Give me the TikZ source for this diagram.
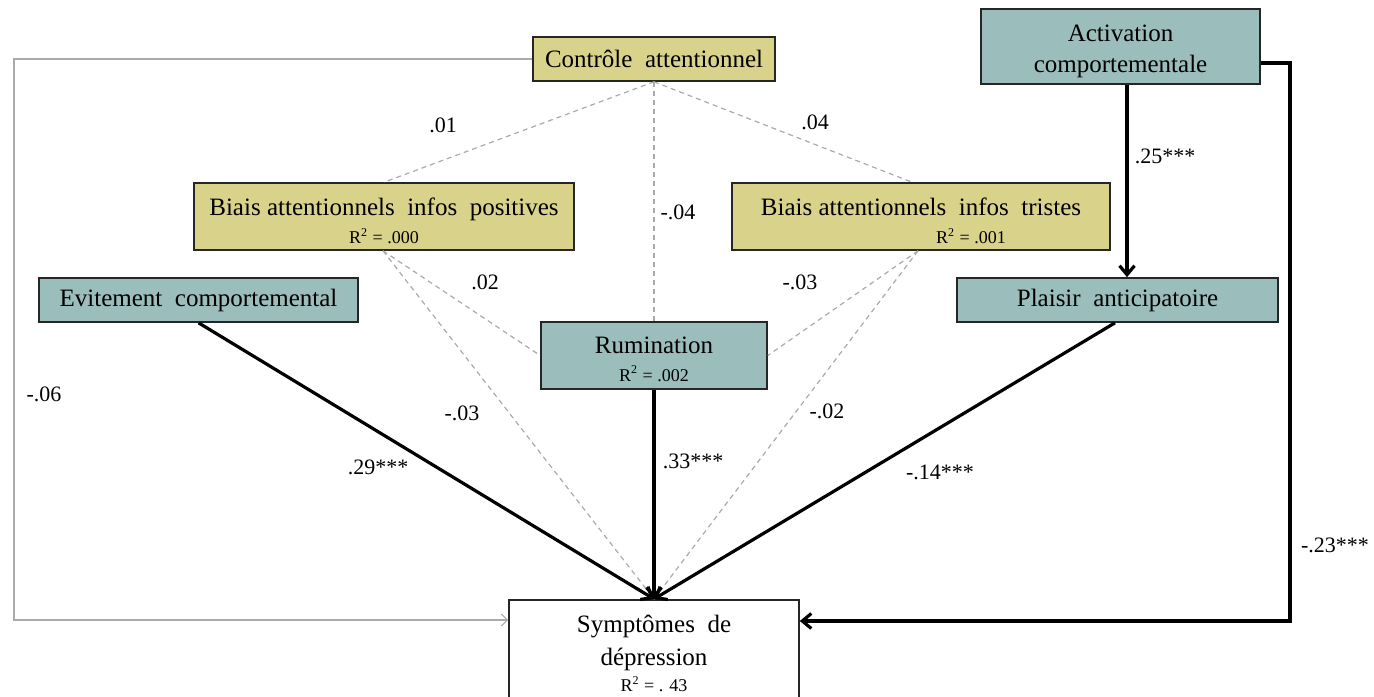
\documentclass[tikz,border=0pt]{standalone}
\usepackage{fontspec}
\setmainfont{Liberation Serif}
\usetikzlibrary{arrows.meta,calc}
\definecolor{khaki}{RGB}{217,210,139}
\definecolor{teal2}{RGB}{155,189,188}
\definecolor{lgray}{RGB}{170,170,170}
\newcommand\rsqf{\fontsize{9}{10}\selectfont}
\tikzset{
  box/.style={draw=black!85, line width=0.8pt, inner sep=0pt, align=center, font=\fontsize{12.5}{15.5}\selectfont},
  kbox/.style={box, fill=khaki},
  tbox/.style={box, fill=teal2},
  lbl/.style={font=\fontsize{11}{13}\selectfont, inner sep=0pt},
  dsh/.style={draw=lgray, line width=0.6pt, dash pattern=on 2.5pt off 2pt},
  thin/.style={draw=lgray, line width=0.6pt, -{Straight Barb[length=3pt,width=6pt]}},
  thk/.style={draw=black, line width=1.6pt, -{Straight Barb[length=4.5pt,width=7.5pt]}},
}
\begin{document}
\begin{tikzpicture}[x=0.5pt,y=-0.5pt]
\useasboundingbox (0,0) rectangle (1374,696);
% nodes
\node[kbox, minimum width=121pt, minimum height=22pt] (ctrl) at (654,59) {Contrôle\ \ attentionnel};
\node[tbox, minimum width=139.5pt, minimum height=37.5pt] (act) at (1120.5,46.5) {\rule{0pt}{13pt}Activation\\comportementale};
\node[kbox, minimum width=190pt, minimum height=33.5pt] (bpos) at (384,216.5) {\rule{0pt}{13.5pt}Biais\ attentionnels\ \ infos\ \ positives\\[-1.5pt]{\rsqf R\textsuperscript{2} = .000}};
\node[kbox, minimum width=189pt, minimum height=33.5pt] (btri) at (921,216.5) {\rule{0pt}{13.5pt}Biais\ attentionnels\ \ infos\ \ tristes\\[-1.5pt]\hspace*{50pt}{\rsqf R\textsuperscript{2} = .001}};
\node[tbox, minimum width=159.5pt, minimum height=22pt] (evit) at (198.5,300) {Evitement\ \ comportemental};
\node[tbox, minimum width=160.5pt, minimum height=22pt] (plai) at (1117.5,300) {Plaisir\ \ anticipatoire};
\node[tbox, minimum width=113pt, minimum height=33.5pt] (rum) at (654,355.5) {\rule{0pt}{12pt}Rumination\\[-1.5pt]{\rsqf R\textsuperscript{2} = .002}};
\node[box, fill=white, minimum width=145pt, minimum height=52pt, anchor=north] (sym) at (654,599) {\rule{0pt}{10.5pt}Symptômes\ \ de\\[1pt]dépression\\[-2.5pt]{\rsqf R\textsuperscript{2} = . 43}};
% coordinates
\coordinate (l1) at (14,59);
\coordinate (l2) at (14,620);
\coordinate (r1) at (1290,63);
\coordinate (r2) at (1290,621);
% dashed
\draw[dsh] (ctrl.south) -- (bpos.north);
\draw[dsh] (ctrl.south) -- (rum.north);
\draw[dsh] (ctrl.south) -- ([xshift=-4.5pt]btri.north);
\draw[dsh] ([xshift=-0.5pt]bpos.south) -- (rum.west);
\draw[dsh] ([xshift=-0.5pt]bpos.south) -- (sym.north);
\draw[dsh] ([xshift=-1.5pt]btri.south) -- (rum.east);
\draw[dsh] ([xshift=-1.5pt]btri.south) -- (sym.north);
% gray path
\draw[thin] (ctrl.west) -- (l1) -- (l2) -- (l2 -| sym.west);
% thick
\draw[thk] (evit.south) -- (sym.north);
\draw[thk] (rum.south) -- (sym.north);
\draw[thk] ([xshift=-1.25pt]plai.south) -- (sym.north);
\draw[thk] ([xshift=3.25pt]act.south) -- ([xshift=4.75pt]plai.north);
\draw[thk] ([yshift=-8.25pt]act.east) -- (r1) -- (r2) -- (r2 -| sym.east);
% labels
\node[lbl] (a1) at (443,125) {.01};
\node[lbl] (a2) at (815,122) {.04};
\node[lbl] (a3) at (678,212) {-.04};
\node[lbl] (a4) at (485,282) {.02};
\node[lbl] (a5) at (800,282) {-.03};
\node[lbl] (a6) at (44,394) {-.06};
\node[lbl] (a7) at (462,413) {-.03};
\node[lbl] (a8) at (827,411) {-.02};
\node[lbl] (a9) at (378,467) {.29***};
\node[lbl] (a10) at (693,461) {.33***};
\node[lbl] (a11) at (940,472) {-.14***};
\node[lbl] (a12) at (1165,156) {.25***};
\node[lbl] (a13) at (1335,545) {-.23***};
\end{tikzpicture}
\end{document}
